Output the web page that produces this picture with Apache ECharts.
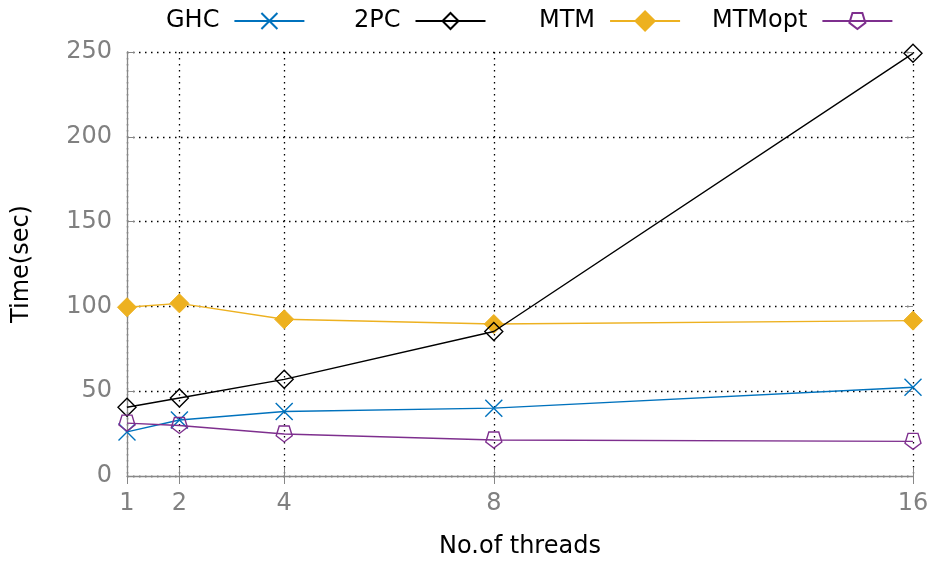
<!DOCTYPE html>
<html><head><meta charset="utf-8">
<script src="https://cdn.jsdelivr.net/npm/echarts@6/dist/echarts.min.js"></script>
<style>html,body{margin:0;padding:0;background:#fff}#c{width:932px;height:564px}</style>
</head><body><div id="c"></div>
<script>
const threads = [1, 2, 4, 8, 16];
const yTicks = [0, 50, 100, 150, 200, 250];
const ghc = [26, 33, 38, 40, 52.3];
const twoPC = [40.5, 46, 57, 85.2, 249.2];
const mtm = [99.5, 101.8, 92.4, 89.6, 91.6];
const mtmopt = [31.2, 29.8, 24.8, 21.2, 20.4];

const FONT = 'DejaVu Sans';
const pair = arr => threads.map((t, i) => [t, arr[i]]);
const pentagon = 'path://M-0.59,-0.81 L0.59,-0.81 L0.95,0.31 L0,1 L-0.95,0.31 Z';
const cross = 'path://M0,0 L1,1 M1,0 L0,1';

const chart = echarts.init(document.getElementById('c'));
const legendBase = (name, left, h) => ({
  data: [name], top: 4, left: left, align: 'right', itemWidth: 70, itemHeight: h || 20,
  textStyle: {fontFamily: FONT, fontSize: 24, color: '#000', padding: [0, 10, 0, 0]},
  selectedMode: false
});
chart.setOption({
  animation: false,
  backgroundColor: '#fff',
  textStyle: {fontFamily: FONT},
  legend: [
    legendBase('GHC', 161),
    legendBase('2PC', 349),
    legendBase('MTM', 534, 24),
    legendBase('MTMopt', 707)
  ],
  grid: {left: 127, right: 19, top: 52, bottom: 88},
  xAxis: [{
    type: 'value', min: 1, max: 16,
    name: 'No.of threads', nameLocation: 'middle', nameGap: 59,
    nameTextStyle: {fontFamily: FONT, fontSize: 24, color: '#000'},
    axisLine: {show: true, lineStyle: {color: '#888', width: 1.3}},
    axisTick: {show: true, inside: true, length: 8, customValues: threads, lineStyle: {color: '#888'}},
    axisLabel: {customValues: threads, fontFamily: FONT, fontSize: 24, color: '#808080', margin: 16},
    splitLine: {show: true, lineStyle: {color: '#000', type: [1.5, 4.5], width: 1.3}}
  }, {
    type: 'value', min: 1, max: 16, position: 'top',
    axisLine: {show: false},
    axisTick: {show: true, inside: true, length: 8, customValues: threads, lineStyle: {color: '#888'}},
    axisLabel: {show: false},
    splitLine: {show: false}
  }],
  yAxis: [{
    type: 'value', min: 0, max: 250, interval: 50,
    name: 'Time(sec)', nameLocation: 'middle', nameGap: 93,
    nameTextStyle: {fontFamily: FONT, fontSize: 24, color: '#000'},
    axisLine: {show: true, lineStyle: {color: '#888', width: 1.3}},
    axisTick: {show: true, inside: true, length: 8, lineStyle: {color: '#888'}},
    axisLabel: {fontFamily: FONT, fontSize: 24, color: '#808080', margin: 15},
    splitLine: {show: true, lineStyle: {color: '#000', type: [1.5, 4.5], width: 1.3}}
  }, {
    type: 'value', min: 0, max: 250, interval: 50, position: 'right',
    axisLine: {show: false},
    axisTick: {show: true, inside: true, length: 8, lineStyle: {color: '#888'}},
    axisLabel: {show: false},
    splitLine: {show: false}
  }],
  series: [
    {name: 'GHC', type: 'line', data: pair(ghc), symbol: cross, symbolSize: 17,
     lineStyle: {color: '#0072bd', width: 1.4},
     itemStyle: {color: '#0072bd', borderColor: '#0072bd', borderWidth: 1.4}, z: 4},
    {name: '2PC', type: 'line', data: pair(twoPC), symbol: 'diamond', symbolSize: 18,
     lineStyle: {color: '#000', width: 1.4},
     itemStyle: {color: 'rgba(255,255,255,0)', borderColor: '#000', borderWidth: 1.4}, z: 3},
    {name: 'MTM', type: 'line', data: pair(mtm), symbol: 'diamond', symbolSize: 19,
     lineStyle: {color: '#edb120', width: 1.4},
     itemStyle: {color: '#edb120', borderColor: '#edb120', borderWidth: 1}, z: 2},
    {name: 'MTMopt', type: 'line', data: pair(mtmopt), symbol: pentagon, symbolSize: 16,
     lineStyle: {color: '#7e2f8e', width: 1.4},
     itemStyle: {color: 'rgba(255,255,255,0)', borderColor: '#7e2f8e', borderWidth: 1.4}, z: 5}
  ]
});
</script></body></html>
